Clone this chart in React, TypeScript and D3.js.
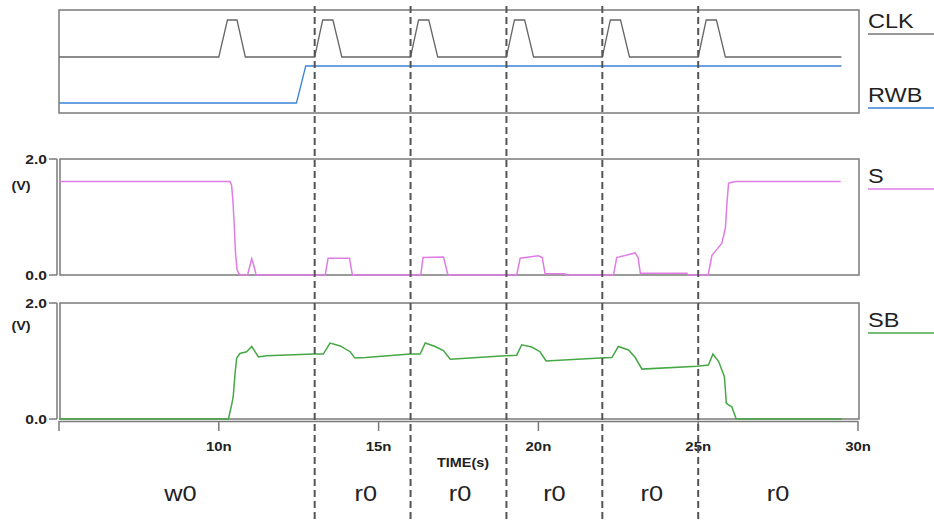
import React from "react";
import * as d3 from "d3";

// time in ns, values in V (S, SB) or logic level (CLK, RWB)
const clkData: [number, number][] = [
  [5, 0], [10, 0], [10.27, 1], [10.57, 1], [10.83, 0],
  [13, 0], [13.25, 1], [13.57, 1], [13.85, 0],
  [16, 0], [16.25, 1], [16.57, 1], [16.85, 0],
  [19, 0], [19.25, 1], [19.57, 1], [19.85, 0],
  [22, 0], [22.25, 1], [22.57, 1], [22.85, 0],
  [25, 0], [25.25, 1], [25.57, 1], [25.85, 0], [29.48, 0],
];
const rwbData: [number, number][] = [[5, 0], [12.43, 0], [12.72, 1], [29.48, 1]];
const sData: [number, number][] = [
  [5, 1.61], [10.35, 1.61], [10.4, 1.55], [10.44, 1.3], [10.48, 0.9], [10.52, 0.4],
  [10.57, 0.1], [10.63, 0.02], [10.72, 0], [10.9, 0], [10.97, 0.15], [11.03, 0.28],
  [11.1, 0.15], [11.17, 0], [13.33, 0], [13.42, 0.29], [14.09, 0.29], [14.18, 0],
  [16.32, 0], [16.39, 0.3], [17.03, 0.31], [17.17, 0], [19.32, 0], [19.43, 0.29],
  [20.0, 0.33], [20.12, 0.3], [20.21, 0.02], [20.84, 0.02], [20.86, 0], [22.35, 0],
  [22.45, 0.3], [23.03, 0.38], [23.12, 0.3], [23.19, 0.03], [24.65, 0.03], [24.67, 0],
  [25.31, 0], [25.43, 0.34], [25.6, 0.45], [25.74, 0.55], [25.85, 0.81], [25.9, 1.24],
  [25.95, 1.58], [26.05, 1.6], [26.2, 1.61], [29.46, 1.61],
];
const sbData: [number, number][] = [
  [5, 0], [10.3, 0], [10.4, 0.24], [10.45, 0.38], [10.51, 0.79], [10.56, 1.05],
  [10.66, 1.13], [10.87, 1.16], [11.03, 1.25], [11.24, 1.07], [11.5, 1.09], [12.96, 1.12],
  [13.27, 1.12], [13.48, 1.31], [13.8, 1.26], [14.11, 1.16], [14.26, 1.05], [14.6, 1.06],
  [15.99, 1.12], [16.3, 1.12], [16.46, 1.31], [16.77, 1.25], [17.03, 1.18], [17.24, 1.03],
  [18.96, 1.09], [19.32, 1.1], [19.48, 1.28], [19.79, 1.24], [20.05, 1.16], [20.24, 1.0],
  [21.93, 1.05], [22.3, 1.06], [22.5, 1.25], [22.82, 1.19], [23.03, 1.06], [23.24, 0.86],
  [24.96, 0.91], [25.32, 0.93], [25.46, 1.12], [25.64, 0.99], [25.82, 0.73], [25.88, 0.27],
  [26.05, 0.21], [26.19, 0], [29.5, 0],
];
const markerTimes = [13, 16, 19, 22, 25];
const xTicks = [5, 10, 15, 20, 25, 30];
const xTickLabels = ["", "10n", "15n", "20n", "25n", "30n"];
const opLabels = ["w0", "r0", "r0", "r0", "r0", "r0"];
const opTimes = [8.8, 14.6, 17.55, 20.5, 23.55, 27.5];
const seriesNames = ["CLK", "RWB", "S", "SB"];
const seriesColors = ["#777777", "#3a82d6", "#e07ce6", "#45a845"];
const yTickValues = [0, 2];
const yTickLabels = ["0.0", "2.0"];

const font = "Liberation Sans, Arial, sans-serif";

function SText(props: {
  x: number; y: number; sx: number; size: number; bold?: boolean; anchor?: string; children: React.ReactNode;
}) {
  const { x, y, sx, size, bold, anchor, children } = props;
  return (
    <text
      x={0}
      y={0}
      transform={`translate(${x},${y}) scale(${sx},1)`}
      textAnchor={anchor || "start"}
      fontSize={size}
      fontWeight={bold ? "bold" : "normal"}
      fill="#222"
      fontFamily={font}
    >
      {children}
    </text>
  );
}

export default function App() {
  const x = d3.scaleLinear().domain([5, 30]).range([59, 858]);
  const yClk = d3.scaleLinear().domain([0, 1]).range([57, 20]);
  const yRwb = d3.scaleLinear().domain([0, 1]).range([103, 66]);
  const yS = d3.scaleLinear().domain([0, 2]).range([275, 159]);
  const ySB = d3.scaleLinear().domain([0, 2]).range([419, 303]);

  const mk = (ys: d3.ScaleLinear<number, number>) =>
    d3.line<[number, number]>().x((d) => x(d[0])).y((d) => ys(d[1]));

  const boxStroke = "#7a7a7a";
  const legendY = [28, 102, 183, 327];

  const yAxis = (ys: d3.ScaleLinear<number, number>, vY: number) => (
    <g>
      <line x1={57} x2={57} y1={ys(2)} y2={ys(0)} stroke={boxStroke} strokeWidth={1.5} />
      {yTickValues.map((v, i) => (
        <g key={i}>
          <line x1={49} x2={57} y1={ys(v)} y2={ys(v)} stroke={boxStroke} strokeWidth={1.5} />
          <SText x={47} y={ys(v) + 4.5} sx={1.2} size={13} bold anchor="end">{yTickLabels[i]}</SText>
        </g>
      ))}
      <SText x={21} y={vY} sx={1.2} size={12} bold anchor="middle">(V)</SText>
    </g>
  );

  return (
    <svg width={934} height={520} style={{ position: "absolute", left: 0, top: 0, background: "#fff" }}>
      {/* panels */}
      <rect x={59} y={10} width={800} height={103} fill="none" stroke={boxStroke} strokeWidth={1.5} />
      <rect x={60} y={159} width={799} height={116} fill="none" stroke={boxStroke} strokeWidth={1.5} />
      <rect x={60} y={303} width={799} height={116} fill="none" stroke={boxStroke} strokeWidth={1.5} />
      {yAxis(yS, 190)}
      {yAxis(ySB, 330)}
      {/* x axis */}
      <line x1={x(5)} x2={x(30)} y1={421.5} y2={421.5} stroke={boxStroke} strokeWidth={1.5} />
      {xTicks.map((t, i) => (
        <g key={t}>
          <line x1={x(t)} x2={x(t)} y1={421} y2={431} stroke={boxStroke} strokeWidth={1.5} />
          <SText x={x(t)} y={451} sx={1.15} size={13} bold anchor="middle">{xTickLabels[i]}</SText>
        </g>
      ))}
      <SText x={463} y={467} sx={1.2} size={12} bold anchor="middle">TIME(s)</SText>
      {/* waveforms */}
      <path d={mk(yClk)(clkData) || ""} fill="none" stroke="#666" strokeWidth={1.3} />
      <path d={mk(yRwb)(rwbData) || ""} fill="none" stroke={seriesColors[1]} strokeWidth={1.3} />
      <path d={mk(yS)(sData) || ""} fill="none" stroke={seriesColors[2]} strokeWidth={1.5} />
      <path d={mk(ySB)(sbData) || ""} fill="none" stroke={seriesColors[3]} strokeWidth={1.5} />
      {/* dashed markers */}
      {markerTimes.map((t) => (
        <line key={t} x1={x(t)} x2={x(t)} y1={6} y2={520} stroke="#555" strokeWidth={2} strokeDasharray="7,4" />
      ))}
      {/* legend */}
      {seriesNames.map((n, i) => (
        <g key={n}>
          <SText x={868} y={legendY[i]} sx={1.12} size={21}>{n}</SText>
          <line x1={868} x2={934} y1={legendY[i] + 6} y2={legendY[i] + 6} stroke={seriesColors[i]} strokeWidth={1.5} />
        </g>
      ))}
      {/* operation labels */}
      {opLabels.map((l, i) => (
        <SText key={i} x={x(opTimes[i])} y={501} sx={1.15} size={22} anchor="middle">{l}</SText>
      ))}
    </svg>
  );
}
